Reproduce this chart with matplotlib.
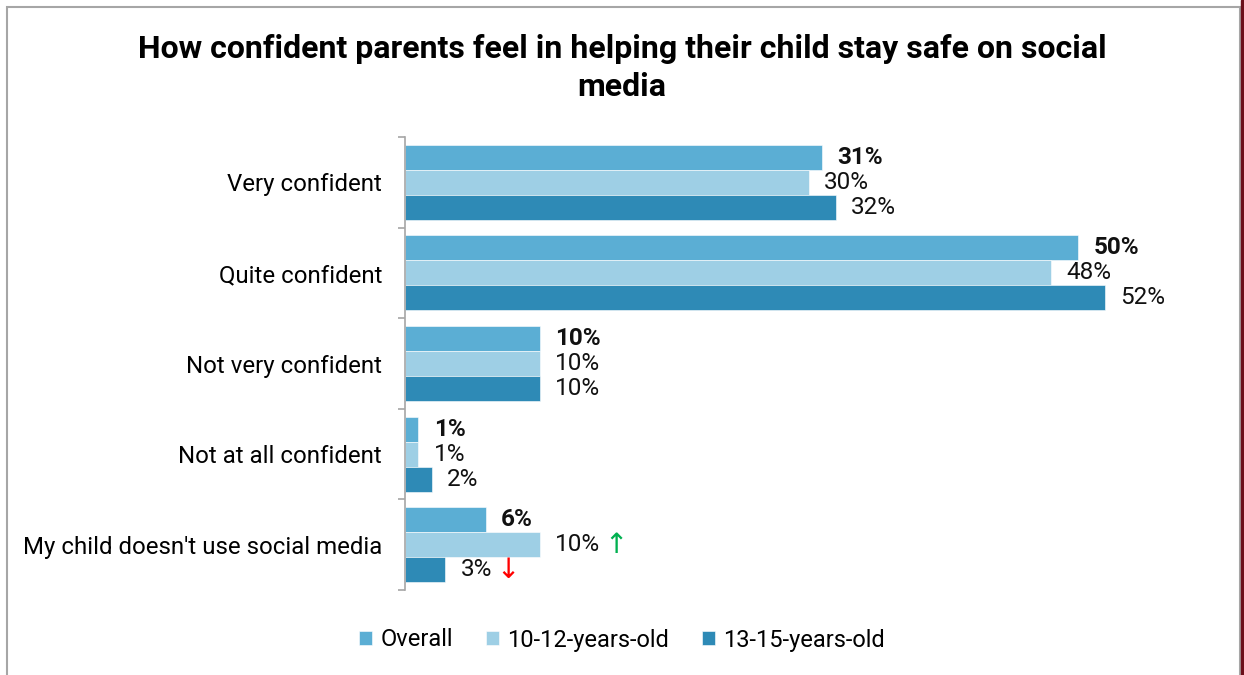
import matplotlib.pyplot as plt
import numpy as np
from matplotlib.patches import Rectangle

plt.rcParams['font.family'] = ['Roboto', 'DejaVu Sans']

categories = ["Very confident", "Quite confident", "Not very confident",
              "Not at all confident", "My child doesn't use social media"]
series = ["Overall", "10-12-years-old", "13-15-years-old"]
overall = [31, 50, 10, 1, 6]
age_10_12 = [30, 48, 10, 1, 10]
age_13_15 = [32, 52, 10, 2, 3]
colors = ["#5BAED4", "#9ECFE5", "#2E8AB6"]
# significance markers next to a label: (series index, category index) -> arrow
arrows = {(1, 4): ("\u2191", "#00B050"), (2, 4): ("\u2193", "#FF0000")}

fig = plt.figure(figsize=(12.44, 6.75), dpi=100)

# outer frame
fig.patches.append(Rectangle((7 / 1244, -0.01), 1233 / 1244, 1 - 7 / 675 + 0.01,
                             transform=fig.transFigure, fill=False,
                             edgecolor="#A6A6A6", linewidth=1.5))
fig.patches.append(Rectangle((1241 / 1244, 0), 3 / 1244, 1,
                             transform=fig.transFigure, color="#6B0F1A"))

ax = fig.add_axes([405 / 1244, 1 - 590 / 675, 800 / 1244, 453 / 675])

n = len(categories)
bar_h = 0.276
y = np.arange(n)
data = [overall, age_10_12, age_13_15]
for i, vals in enumerate(data):
    pos = y + (i - 1) * bar_h
    ax.barh(pos, vals, height=bar_h, color=colors[i], label=series[i],
            edgecolor="white", linewidth=0.4)
    for j, v in enumerate(vals):
        t = ax.annotate(f"{v}%", (v, pos[j]), xytext=(11, 0), textcoords="offset points",
                        va="center", ha="left", fontsize=17.5,
                        fontweight="bold" if i == 0 else "normal", color="#111111")
        if (i, j) in arrows:
            sym, col = arrows[(i, j)]
            ax.annotate(sym, (1, 0.5), xycoords=t, xytext=(3, 0),
                        textcoords="offset points", va="center", ha="left",
                        fontsize=20, color=col, family=["DejaVu Sans"])

ax.set_xlim(0, 800 / 13.46)
ax.set_ylim(n - 0.5, -0.5)
ax.set_xticks([])
ax.set_yticks(y)
ax.set_yticklabels(categories, fontsize=17.3)
ax.set_yticks(np.arange(n + 1) - 0.5, minor=True)
ax.tick_params(axis="y", which="major", length=0, pad=16.5)
ax.tick_params(axis="y", which="minor", length=5, color="#A6A6A6", width=1.2)
for s in ["top", "right", "bottom"]:
    ax.spines[s].set_visible(False)
ax.spines["left"].set_color("#A6A6A6")
ax.spines["left"].set_linewidth(1.2)

fig.text(0.5, 1 - 68 / 675,
         "How confident parents feel in helping their child stay safe on social\nmedia",
         ha="center", va="center", fontsize=23, fontweight="bold", linespacing=1.3)

fig.legend(loc="center", bbox_to_anchor=(0.5, 1 - 640 / 675), ncol=3, frameon=False,
           fontsize=17, handlelength=0.55, handleheight=0.55, handletextpad=0.35,
           columnspacing=1.4)

fig.savefig("out.png", dpi=100)
